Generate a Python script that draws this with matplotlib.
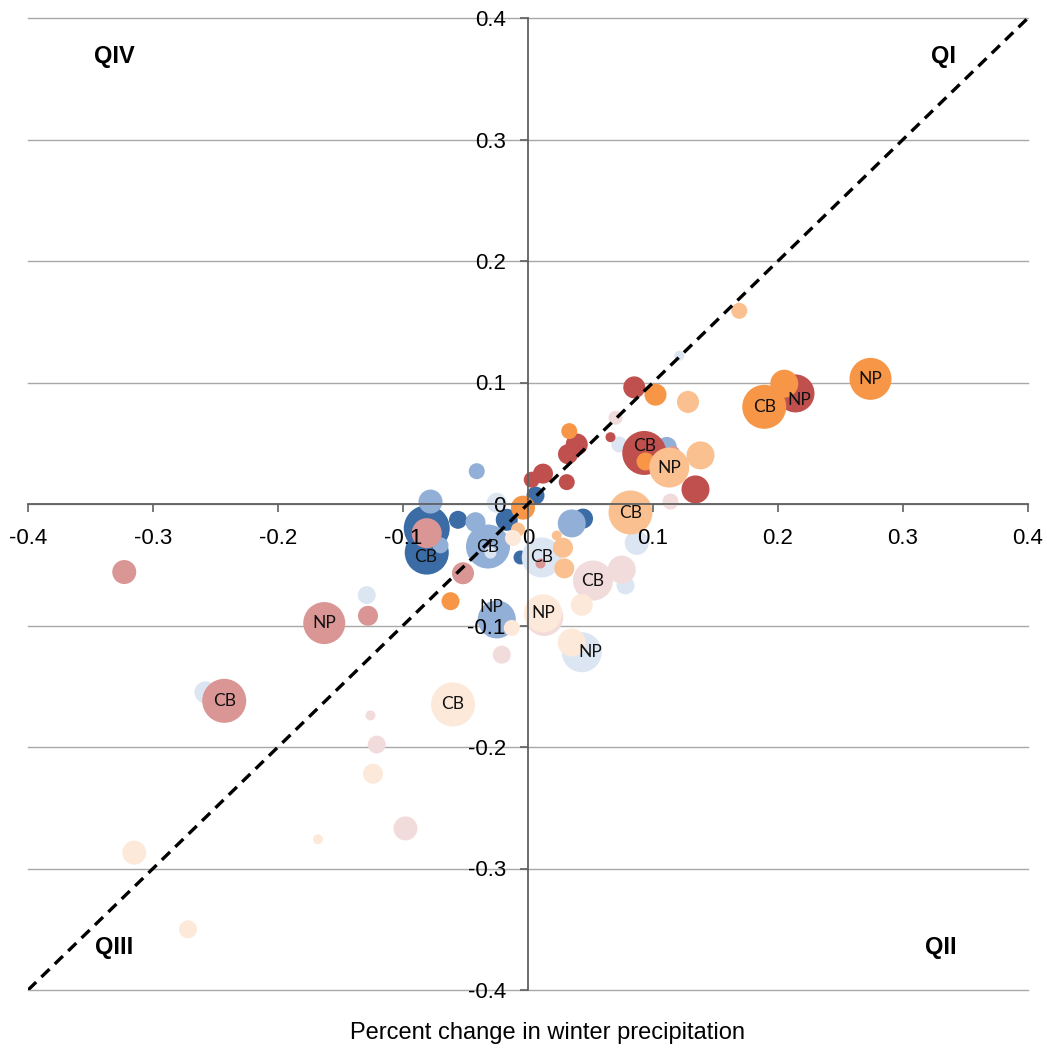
import numpy as np
import matplotlib
matplotlib.use("Agg")
import matplotlib.pyplot as plt

plt.rcParams["axes.unicode_minus"] = False
plt.rcParams["font.family"] = ["Liberation Sans", "DejaVu Sans"]

# ---- data: (precip change, other change, bubble magnitude, label) per series ----
dark_blue_x = [-0.081, -0.081, -0.056, -0.017, 0.006, -0.006, 0.044]
dark_blue_y = [-0.020, -0.040, -0.013, -0.013, 0.007, -0.044, -0.012]
dark_blue_m = [23, 22, 9, 11, 9, 7, 10]
dark_blue_lab = ["", "CB", "", "", "", "", ""]

mid_blue_x = [-0.041, -0.078, -0.042, -0.070, -0.032, 0.035, 0.111, -0.025]
mid_blue_y = [0.027, 0.002, -0.015, -0.034, -0.035, -0.016, 0.047, -0.095]
mid_blue_m = [8, 12, 10, 8, 22, 14, 10, 19]
mid_blue_lab = ["", "", "", "", "CB", "", "", "NP"]

light_blue_x = [-0.025, -0.030, 0.011, 0.087, 0.078, 0.073, 0.121, 0.043, -0.129, -0.258]
light_blue_y = [0.001, -0.040, -0.044, -0.032, -0.067, 0.049, 0.122, -0.122, -0.075, -0.155]
light_blue_m = [10, 6, 20, 12, 9, 8, 5, 20, 9, 11]
light_blue_lab = ["", "", "CB", "", "", "", "", "NP", "", ""]

dark_red_x = [0.085, 0.214, 0.039, 0.032, 0.012, 0.003, 0.031, 0.066, 0.093, 0.134]
dark_red_y = [0.096, 0.091, 0.049, 0.041, 0.025, 0.020, 0.018, 0.055, 0.042, 0.012]
dark_red_m = [11, 19, 11, 10, 10, 8, 8, 5, 22, 14]
dark_red_lab = ["", "NP", "", "", "", "", "", "", "CB", ""]

mid_red_x = [-0.081, -0.052, -0.163, -0.128, -0.323, -0.243, 0.010, 0.116]
mid_red_y = [-0.024, -0.057, -0.098, -0.092, -0.056, -0.162, -0.049, 0.042]
mid_red_m = [15, 11, 21, 10, 12, 22, 5, 7]
mid_red_lab = ["", "", "NP", "", "", "CB", "", ""]

light_red_x = [0.070, 0.114, 0.052, 0.075, 0.013, -0.021, -0.126, -0.121, -0.098]
light_red_y = [0.071, 0.002, -0.063, -0.054, -0.093, -0.124, -0.174, -0.198, -0.267]
light_red_m = [7, 8, 20, 14, 19, 9, 5, 9, 12]
light_red_lab = ["", "", "CB", "", "", "", "", "", ""]

orange_x = [0.274, 0.205, 0.189, 0.102, 0.033, 0.094, -0.004, -0.062]
orange_y = [0.103, 0.099, 0.080, 0.090, 0.060, 0.035, -0.003, -0.080]
orange_m = [21, 14, 22, 11, 8, 9, 12, 9]
orange_lab = ["NP", "", "CB", "", "", "", "", ""]

mid_orange_x = [0.169, 0.128, 0.113, 0.138, 0.082, -0.008, 0.023, 0.028, 0.029]
mid_orange_y = [0.159, 0.084, 0.030, 0.040, -0.007, -0.021, -0.026, -0.036, -0.053]
mid_orange_m = [8, 11, 20, 14, 22, 7, 5, 10, 10]
mid_orange_lab = ["", "", "NP", "", "CB", "", "", "", ""]

light_orange_x = [-0.012, 0.043, 0.012, -0.013, 0.035, -0.060, -0.124, -0.168, -0.315, -0.272]
light_orange_y = [-0.028, -0.083, -0.090, -0.102, -0.114, -0.165, -0.222, -0.276, -0.287, -0.350]
light_orange_m = [8, 11, 19, 8, 14, 22, 10, 5, 12, 9]
light_orange_lab = ["", "", "NP", "", "", "CB", "", "", "", ""]

tick_values = [-0.4, -0.3, -0.2, -0.1, 0.0, 0.1, 0.2, 0.3, 0.4]
tick_labels = ["-0.4", "-0.3", "-0.2", "-0.1", "0", "0.1", "0.2", "0.3", "0.4"]
quadrants = [("QIV", -0.331, 0.368), ("QI", 0.332, 0.368),
             ("QIII", -0.331, -0.365), ("QII", 0.330, -0.365)]
x_title = "Percent change in winter precipitation"

series = [
    (dark_blue_x, dark_blue_y, dark_blue_m, dark_blue_lab, "#3b6ca6"),
    (mid_blue_x, mid_blue_y, mid_blue_m, mid_blue_lab, "#92afd7"),
    (light_blue_x, light_blue_y, light_blue_m, light_blue_lab, "#dce6f2"),
    (dark_red_x, dark_red_y, dark_red_m, dark_red_lab, "#c0504d"),
    (mid_red_x, mid_red_y, mid_red_m, mid_red_lab, "#d99694"),
    (light_red_x, light_red_y, light_red_m, light_red_lab, "#f2dcdb"),
    (orange_x, orange_y, orange_m, orange_lab, "#f79646"),
    (mid_orange_x, mid_orange_y, mid_orange_m, mid_orange_lab, "#fac090"),
    (light_orange_x, light_orange_y, light_orange_m, light_orange_lab, "#fde9d9"),
]

# small nudges (points) for a few bubble labels
label_nudge = {("#c0504d", "CB"): (0, 5), ("#92afd7", "NP"): (-4, 9),
               ("#c0504d", "NP"): (3, -5), ("#dce6f2", "NP"): (6, 0),
               ("#3b6ca6", "CB"): (-1, -3)}

W, H = 1047, 1050
fig = plt.figure(figsize=(W / 100, H / 100), dpi=100)
ax = fig.add_axes([28 / W, 60 / H, 1000 / W, 972 / H])
ax.set_xlim(-0.4, 0.4)
ax.set_ylim(-0.4, 0.4)

# horizontal gridlines, kept beneath the bubbles
for v in tick_values:
    ax.axhline(v, color="#a8a8a8", lw=1.0, zorder=0.5, clip_on=False)

px_to_pt = 0.72
for xs, ys, ms, labs, col in series:
    order = np.argsort(ms)[::-1]
    xs_a, ys_a, ms_a = np.array(xs), np.array(ys), np.array(ms, dtype=float)
    sizes = (2 * ms_a * px_to_pt) ** 2
    ax.scatter(xs_a[order], ys_a[order], s=sizes[order], c=col,
               linewidths=0, zorder=1)
    for x, y, lab in zip(xs, ys, labs):
        if lab:
            dx, dy = label_nudge.get((col, lab), (0, 0))
            ax.annotate(lab, (x, y), xytext=(dx, dy), textcoords="offset points",
                        ha="center", va="center", fontsize=12.5,
                        family=["Lato", "DejaVu Sans"], color="#111111", zorder=5)

# 1:1 reference line
ax.plot([-0.4, 0.4], [-0.4, 0.4], color="black", lw=2.4,
        dashes=(3.4, 2.2), zorder=4, dash_capstyle="butt")

# axes through the origin
ax.set_axisbelow(False)
for side in ("top", "right"):
    ax.spines[side].set_visible(False)
ax.spines["left"].set_position(("data", 0))
ax.spines["bottom"].set_position(("data", 0))
for side in ("left", "bottom"):
    ax.spines[side].set_color("#606060")
    ax.spines[side].set_linewidth(1.3)
    ax.spines[side].set_zorder(3)

ax.set_xticks(tick_values)
ax.set_xticklabels(tick_labels)
ax.set_yticks(tick_values)
ax.set_yticklabels(tick_labels)
ax.tick_params(axis="both", direction="out", length=6, width=1.2,
               color="#606060", labelsize=16, labelcolor="black")
ax.tick_params(axis="x", pad=11.5)
ax.tick_params(axis="y", pad=10)
ax.grid(False)

for txt, qx, qy in quadrants:
    ax.text(qx, qy, txt, ha="center", va="center", fontsize=17,
            fontweight="bold", color="black")

fig.text(548 / W, 1 - 1033 / H, x_title, ha="center", va="center", fontsize=17)

fig.savefig("out.png", dpi=100, facecolor="white")
